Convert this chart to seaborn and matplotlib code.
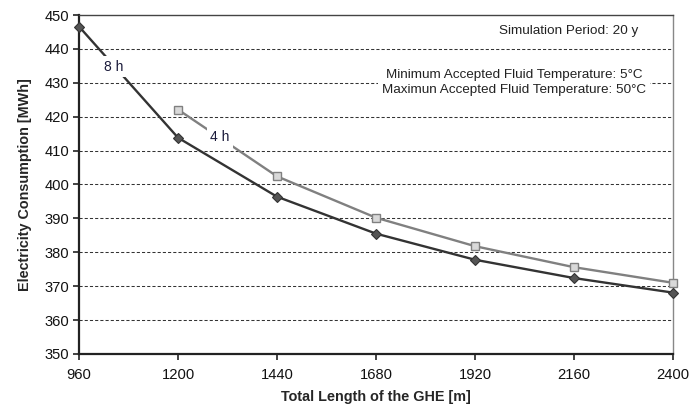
import matplotlib
matplotlib.use("Agg")
import matplotlib.pyplot as plt
import seaborn as sns
import pandas as pd

# Total GHE length [m]
lengths = [960, 1200, 1440, 1680, 1920, 2160, 2400]
# Electricity consumption [MWh] for 8 h and 4 h configurations
consumption_8h = [446.6, 413.8, 396.4, 385.5, 377.8, 372.4, 368.1]
lengths_4h = [1200, 1440, 1680, 1920, 2160, 2400]
consumption_4h = [422.1, 402.4, 390.2, 381.8, 375.6, 371.0]

x_ticks = [960, 1200, 1440, 1680, 1920, 2160, 2400]
y_ticks = [350, 360, 370, 380, 390, 400, 410, 420, 430, 440, 450]

sns.set_style("ticks")
plt.rcParams["font.family"] = ["Liberation Sans", "DejaVu Sans"]

df8 = pd.DataFrame({"x": lengths, "y": consumption_8h})
df4 = pd.DataFrame({"x": lengths_4h, "y": consumption_4h})

fig = plt.figure(figsize=(6.89, 4.08), dpi=100)
ax = fig.add_axes([0.1147, 0.1324, 0.8621, 0.8308])

# dashed horizontal grid
for v in y_ticks[1:-1]:
    ax.axhline(v, color="#333333", lw=0.75, ls=(0, (3, 2)), zorder=0.5)

sns.lineplot(data=df4, x="x", y="y", ax=ax, color="#808080", lw=1.7,
             marker="s", markersize=6, markerfacecolor="#d9d9d9",
             markeredgecolor="#808080", markeredgewidth=1.0, zorder=3,
             clip_on=False)
sns.lineplot(data=df8, x="x", y="y", ax=ax, color="#333333", lw=1.7,
             marker="D", markersize=5, markerfacecolor="#555555",
             markeredgecolor="#333333", markeredgewidth=0.8, zorder=4,
             clip_on=False)

ax.set_xlim(960, 2400)
ax.set_ylim(350, 450)
ax.set_xticks(x_ticks)
ax.set_yticks(y_ticks)
ax.tick_params(axis="both", labelsize=10.6, length=4, width=1.2, color="#222222",
               direction="out", labelcolor="#111111")
ax.tick_params(axis="x", pad=6)
ax.tick_params(axis="y", pad=3)

for side in ["left", "bottom"]:
    ax.spines[side].set_color("#222222")
    ax.spines[side].set_linewidth(1.6)
ax.spines["top"].set_color("#444444")
ax.spines["top"].set_linewidth(1.0)
ax.spines["right"].set_color("#888888")
ax.spines["right"].set_linewidth(1.0)

ax.set_xlabel("Total Length of the GHE [m]", fontsize=10.4, fontweight="bold", labelpad=6)
ax.set_ylabel("Electricity Consumption [MWh]", fontsize=10.4, fontweight="bold", labelpad=9)

white = dict(facecolor="white", edgecolor="none", pad=2.5)
ax.text(1045, 434.7, "8 h", fontsize=10, ha="center", va="center", color="#1a1a3a",
        bbox=white, zorder=5)
ax.text(1302, 414, "4 h", fontsize=10, ha="center", va="center", color="#1a1a3a",
        bbox=white, zorder=5)

ax.text(2148, 445.3, "Simulation Period: 20 y", fontsize=9.7, ha="center",
        va="center", color="#222222", zorder=5)
ax.text(2014, 430.2,
        "Minimum Accepted Fluid Temperature: 5°C\nMaximun Accepted Fluid Temperature: 50°C",
        fontsize=9.7, ha="center", va="center", color="#222222", linespacing=1.35,
        bbox=dict(facecolor="white", edgecolor="none", pad=3), zorder=5)

fig.savefig("out.png", dpi=100)
